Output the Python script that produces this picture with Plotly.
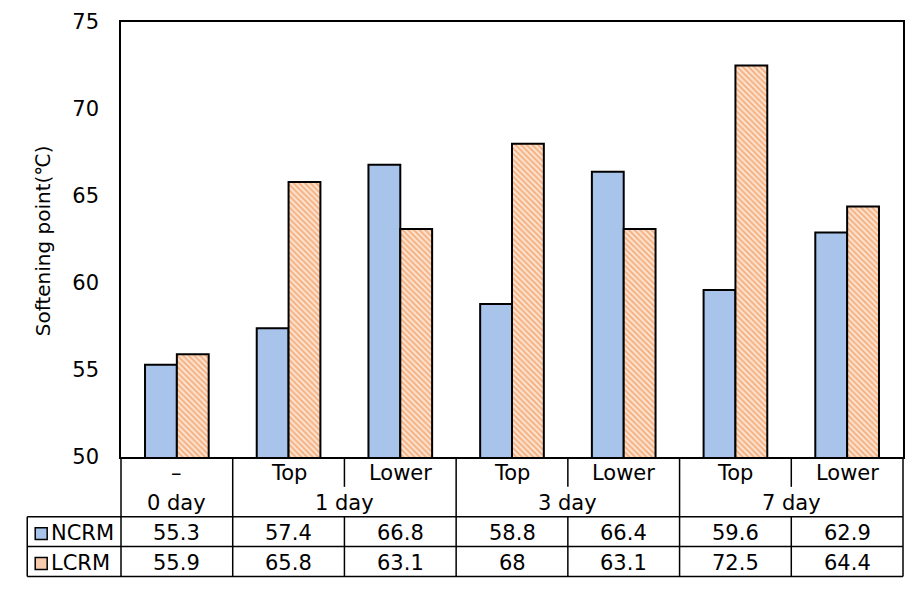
import plotly.graph_objects as go

# ---- data ----
sub_labels = ["–", "Top", "Lower", "Top", "Lower", "Top", "Lower"]
group_labels = ["0 day", "1 day", "3 day", "7 day"]
group_spans = [(0, 0), (1, 2), (3, 4), (5, 6)]
ncrm = [55.3, 57.4, 66.8, 58.8, 66.4, 59.6, 62.9]
lcrm = [55.9, 65.8, 63.1, 68, 63.1, 72.5, 64.4]
ncrm_text = ["55.3", "57.4", "66.8", "58.8", "66.4", "59.6", "62.9"]
lcrm_text = ["55.9", "65.8", "63.1", "68", "63.1", "72.5", "64.4"]
y_ticks = [50, 55, 60, 65, 70, 75]

FONT = "DejaVu Sans"
FS = 21
BLUE = "#A9C4EB"
ORANGE_FG = "#F4B183"
ORANGE_BG = "#FDE5D2"

W, H = 915, 598
L, R, T, B = 121, 905, 20, 457  # plot area pixels
ncat = len(sub_labels)


def px(p):
    return (p - L) / (R - L)


def py(p):
    return (B - p) / (B - T)


def cx(i):
    return (i + 0.5) / ncat


xs = list(range(ncat))

fig = go.Figure()
fig.add_trace(go.Bar(
    x=xs, y=ncrm, name="NCRM",
    marker=dict(color=BLUE, line=dict(color="black", width=2)),
))
fig.add_trace(go.Bar(
    x=xs, y=lcrm, name="LCRM",
    marker=dict(color=ORANGE_BG, line=dict(color="black", width=2),
                pattern=dict(shape="\\", fgcolor=ORANGE_FG, bgcolor=ORANGE_BG,
                             size=4, solidity=0.5, fillmode="replace")),
))

shapes = []
line = dict(color="black", width=1.5)
r_sub, r_grp, r_n, r_l = 487, 517, 547, 577

for yy in (r_grp, r_n, r_l):
    shapes.append(dict(type="line", xref="paper", yref="paper",
                       x0=px(27), x1=1, y0=py(yy), y1=py(yy), line=line))
shapes.append(dict(type="line", xref="paper", yref="paper",
                   x0=px(27), x1=px(27), y0=py(r_grp), y1=py(r_l), line=line))
bounds_full = [-0.5] + [s[1] + 0.5 for s in group_spans]
for b in bounds_full:
    shapes.append(dict(type="line", xref="paper", yref="paper",
                       x0=cx(b), x1=cx(b), y0=0, y1=py(r_l), line=line))
for s in group_spans:
    for k in range(s[0], s[1]):
        b = k + 0.5
        shapes.append(dict(type="line", xref="paper", yref="paper",
                           x0=cx(b), x1=cx(b), y0=0, y1=py(r_sub), line=line))
        shapes.append(dict(type="line", xref="paper", yref="paper",
                           x0=cx(b), x1=cx(b), y0=py(r_grp), y1=py(r_l), line=line))
shapes.append(dict(type="rect", xref="paper", yref="paper",
                   x0=px(35), x1=px(47), y0=py(528), y1=py(540),
                   fillcolor=BLUE, line=dict(color="black", width=1.5)))
shapes.append(dict(type="rect", xref="paper", yref="paper",
                   x0=px(35), x1=px(47), y0=py(558), y1=py(570),
                   fillcolor="#F8CBAD", line=dict(color="black", width=1.5)))

ann = []
tf = dict(family=FONT, size=FS, color="black")
common = dict(showarrow=False, font=tf, yanchor="middle")
for i, s in enumerate(sub_labels):
    ann.append(dict(x=i, y=py(473), xref="x", yref="paper", text=s,
                    xanchor="center", **common))
for g, s in zip(group_labels, group_spans):
    ann.append(dict(x=(s[0] + s[1]) / 2, y=py(503), xref="x", yref="paper",
                    text=g, xanchor="center", **common))
for i in range(ncat):
    ann.append(dict(x=i, y=py(533), xref="x", yref="paper", text=ncrm_text[i],
                    xanchor="center", **common))
    ann.append(dict(x=i, y=py(563), xref="x", yref="paper", text=lcrm_text[i],
                    xanchor="center", **common))
ann.append(dict(x=px(49), y=py(533), xref="paper", yref="paper", text="NCRM",
                xanchor="left", **common))
ann.append(dict(x=px(49), y=py(563), xref="paper", yref="paper", text="LCRM",
                xanchor="left", **common))
ann.append(dict(x=px(43), y=py(240), xref="paper", yref="paper",
                text="Softening point(℃)", textangle=-90, showarrow=False,
                xanchor="center", yanchor="middle",
                font=dict(family=FONT, size=20, color="black")))

fig.update_layout(
    width=W, height=H,
    margin=dict(l=L, r=W - R, t=T, b=H - B, pad=0),
    paper_bgcolor="white", plot_bgcolor="white",
    barmode="group", bargap=0.43, bargroupgap=0,
    showlegend=False,
    shapes=shapes, annotations=ann,
    xaxis=dict(range=[-0.5, ncat - 0.5], showticklabels=False, ticks="",
               showgrid=False, zeroline=False, showline=True, mirror=True,
               linecolor="black", linewidth=1.5, fixedrange=True),
    yaxis=dict(range=[50, 75], tickvals=y_ticks, showgrid=False, zeroline=False,
               showline=True, mirror=True, linecolor="black", linewidth=1.5,
               ticks="outside", ticklen=16, tickcolor="rgba(0,0,0,0)",
               tickfont=dict(family=FONT, size=FS, color="black")),
)

fig.write_html("out.html", config={"displayModeBar": False},
               post_script="document.body.style.margin='0';")
